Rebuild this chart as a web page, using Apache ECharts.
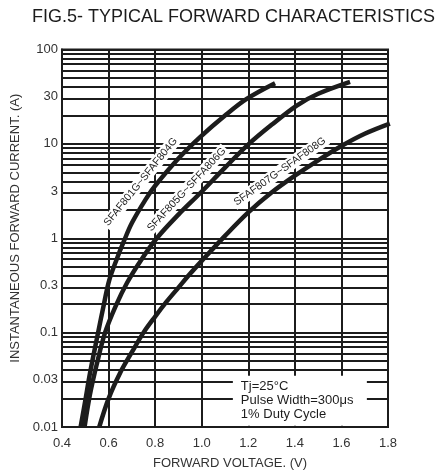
<!DOCTYPE html>
<html><head><meta charset="utf-8">
<script src="https://cdn.jsdelivr.net/npm/echarts@6/dist/echarts.min.js"></script>
<style>html,body{margin:0;padding:0;background:#fff}#c{width:447px;height:475px}</style>
</head><body><div id="c"></div>
<script>
const titleText = 'FIG.5- TYPICAL FORWARD CHARACTERISTICS';
const xName = 'FORWARD VOLTAGE. (V)';
const yName = 'INSTANTANEOUS FORWARD CURRENT. (A)';
const xTickLabels = ['0.4','0.6','0.8','1.0','1.2','1.4','1.6','1.8'];
const yTickLabels = ['0.01','0.03','0.1','0.3','1','3','10','30','100'];
const seriesNames = ['SFAF801G~SFAF804G','SFAF805G~SFFA806G','SFAF807G~SFAF808G'];
// [forward voltage (V), forward current (A)]
const curve1 = [[0.48,0.01],[0.50,0.019],[0.52,0.037],[0.555,0.1],[0.58,0.2],[0.603,0.36],[0.635,0.6],[0.665,0.92],[0.70,1.45],[0.76,2.6],[0.80,3.6],[0.90,7.0],[0.993,11.8],[1.10,20],[1.193,30],[1.315,44]];
const curve2 = [[0.497,0.01],[0.52,0.022],[0.55,0.047],[0.585,0.1],[0.63,0.19],[0.68,0.34],[0.74,0.59],[0.807,1.0],[0.90,1.78],[0.993,3.0],[1.10,5.6],[1.197,9.7],[1.30,15.9],[1.408,25.5],[1.50,34],[1.637,45.5]];
const curve3 = [[0.56,0.01],[0.60,0.02],[0.65,0.0376],[0.70,0.062],[0.75,0.1],[0.80,0.148],[0.85,0.214],[0.90,0.30],[0.95,0.42],[1.0,0.575],[1.1,1.06],[1.2,1.88],[1.3,3.05],[1.4,4.6],[1.5,6.7],[1.6,9.5],[1.7,12.8],[1.808,16.4]];
// label anchor points [V, A] and rotation (deg)
const labelPoints = [[0.738,3.95],[0.935,3.28],[1.336,5.1]];
const labelAngles = [51,47,35.5];
// horizontal log grid
const gridDecades = [0.01,0.1,1,10];
const gridMultipliers = [1,2,3,4,5,6,7,8,9];
const noteLines = ['Tj=25°C','Pulse Width=300μs','1% Duty Cycle'];
const noteAnchor = [1.4215,0.019];

const FONT = '"Liberation Sans", Arial, sans-serif';
const INK = '#1c1c1c';
const yGridValues = [];
gridDecades.forEach(d => gridMultipliers.forEach(m => yGridValues.push(+(d*m).toPrecision(3))));
yGridValues.push(100);

const curves = [curve1, curve2, curve3];
const chart = echarts.init(document.getElementById('c'), null, {renderer:'canvas'});
const series = [
  {
    type:'line', data:[], z:1, silent:true,
    markLine:{silent:true, symbol:['none','none'], label:{show:false}, animation:false,
      lineStyle:{color:INK, width:2, type:'solid'},
      data: yGridValues.map(v => ({yAxis:v}))}
  }
];
curves.forEach((c, i) => {
  const pts = [{coord:labelPoints[i], symbol:'rect', symbolSize:0,
      label:{show:true, position:'inside', rotate:labelAngles[i], formatter:seriesNames[i],
        color:INK, fontFamily:FONT, fontSize:10.5, backgroundColor:'#fff', padding:[1,2]}}];
  if (i === 2) {
    pts.push({coord:noteAnchor, symbol:'rect', symbolSize:[134,50], itemStyle:{color:'#fff'},
      label:{show:true, position:'insideLeft', distance:8, color:INK, fontFamily:FONT, fontSize:13, lineHeight:14,
        formatter: noteLines.join('\n')}});
  }
  series.push({
    name: seriesNames[i], type:'line', data:c, smooth:0.35, symbol:'none', clip:false, z:4,
    lineStyle:{color:INK, width:4.5, cap:'butt'},
    markPoint:{silent:true, animation:false, data:pts}
  });
});

chart.setOption({
  animation:false,
  backgroundColor:'#fff',
  title:{text:titleText, left:27, top:3, textStyle:{fontFamily:FONT, fontSize:18, fontWeight:'normal', color:INK}},
  grid:{left:62, right:59, top:49.5, bottom:43.5, show:true, borderColor:INK, borderWidth:2, backgroundColor:'transparent'},
  xAxis:{type:'value', min:0.4, max:1.8, interval:0.2,
    name:xName, nameLocation:'middle', nameGap:30,
    nameTextStyle:{fontFamily:FONT, fontSize:13, color:'#333', padding:[0,0,0,10]},
    axisLine:{show:true, lineStyle:{color:INK, width:2}},
    axisTick:{show:false},
    axisLabel:{fontFamily:FONT, fontSize:13, color:'#333', margin:10,
      formatter:(v)=>xTickLabels[Math.round((v-0.4)/0.2)]},
    splitLine:{show:true, lineStyle:{color:INK, width:2}}},
  yAxis:{type:'log', logBase:Math.sqrt(10), min:0.01, max:100, interval:1,
    name:yName, nameLocation:'middle', nameGap:37, nameRotate:90,
    nameTextStyle:{fontFamily:FONT, fontSize:13, color:'#333', padding:[0,0,0,20]},
    axisLine:{show:true, lineStyle:{color:INK, width:2}},
    axisTick:{show:false},
    axisLabel:{fontFamily:FONT, fontSize:13, color:'#333', margin:4,
      formatter:(v)=>yTickLabels[Math.round(Math.log10(v)*2)+4]},
    splitLine:{show:false}},
  series: series
});
</script></body></html>
